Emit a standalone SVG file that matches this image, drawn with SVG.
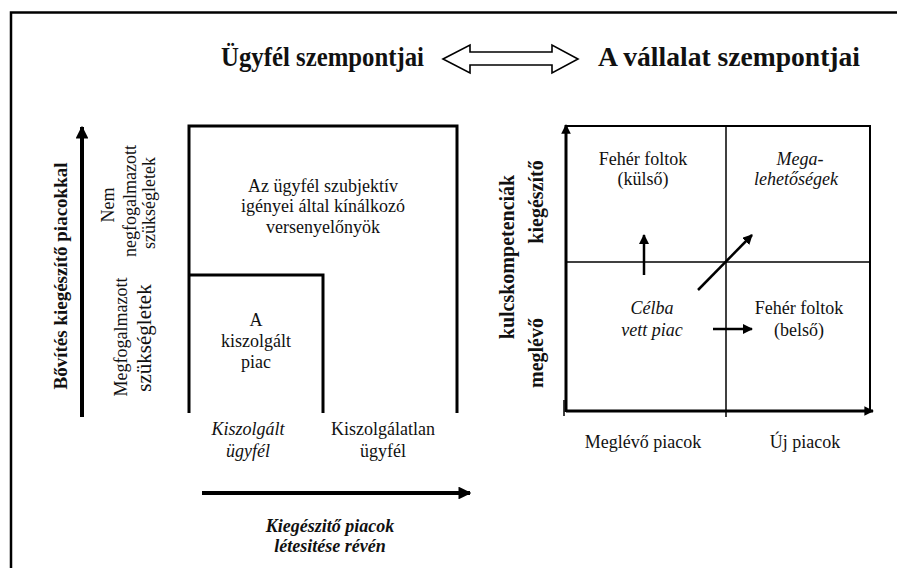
<svg xmlns="http://www.w3.org/2000/svg" width="897" height="568" viewBox="0 0 897 568">
  <defs>
    <marker id="head" viewBox="0 0 10 10" refX="9" refY="5" markerWidth="3.2" markerHeight="3.2" orient="auto" markerUnits="strokeWidth">
      <path d="M0,0 L10,5 L0,10 z" fill="#000"/>
    </marker>
    <marker id="headSmall" viewBox="0 0 10 10" refX="9" refY="5" markerWidth="4" markerHeight="4" orient="auto" markerUnits="strokeWidth">
      <path d="M0,0 L10,5 L0,10 z" fill="#000"/>
    </marker>
  </defs>
  <style>
    .title { font-size: 28px; font-weight: bold; fill: #111; }
    .body { font-size: 18px; text-anchor: middle; fill: #111; }
    .it { font-style: italic; }
    .bold { font-weight: bold; }
    .frame { fill: none; stroke: #000; stroke-width: 2.5; }
    .box { fill: none; stroke: #000; stroke-width: 3; }
    .edge { fill: none; stroke: #000; stroke-width: 2; }
    .thin { fill: none; stroke: #000; stroke-width: 1.5; }
    .axis { fill: none; stroke: #000; stroke-width: 4; marker-end: url(#head); }
    .axis2 { fill: none; stroke: #000; stroke-width: 3; marker-end: url(#head); }
    .move { fill: none; stroke: #000; stroke-width: 2.5; marker-end: url(#headSmall); }
  </style>

  <rect width="897" height="568" fill="#fff"/>

  <!-- outer frame: top and left edges only -->
  <path class="frame" d="M11,568 V12.5 H897"/>

  <!-- headings -->
  <g id="headings" font-family="Liberation Serif">
    <text class="title" x="221" y="66" textLength="203" lengthAdjust="spacingAndGlyphs">Ügyfél szempontjai</text>
    <text class="title" x="598" y="66" textLength="262" lengthAdjust="spacingAndGlyphs">A vállalat szempontjai</text>
    <path id="double-arrow" d="M443,59 L470,45 L470,52 L552,52 L552,45 L578,59 L552,73 L552,65 L470,65 L470,73 Z" fill="#fff" stroke="#000" stroke-width="1.6" stroke-linejoin="miter"/>
  </g>

  <!-- left panel: customer view -->
  <g id="customer-panel" font-family="Liberation Serif">
    <path class="box" d="M189,413 V126 H457 V413"/>
    <path class="box" d="M189,275 H323 V413"/>
    <text class="body" x="323" y="192">Az ügyfél szubjektív</text>
    <text class="body" x="323" y="212">igényei által kínálkozó</text>
    <text class="body" x="323" y="233">versenyelőnyök</text>
    <text class="body" x="256" y="326">A</text>
    <text class="body" x="256" y="347">kiszolgált</text>
    <text class="body" x="256" y="368">piac</text>
  </g>

  <g id="customer-axis-labels" font-family="Liberation Serif">
    <text class="body it" x="248" y="435">Kiszolgált</text>
    <text class="body it" x="248" y="457">ügyfél</text>
    <text class="body" x="383" y="435">Kiszolgálatlan</text>
    <text class="body" x="383" y="457">ügyfél</text>
    <text class="body" transform="translate(114,205) rotate(-90)">Nem</text>
    <text class="body" transform="translate(136,201) rotate(-90)">negfogalmazott</text>
    <text class="body" transform="translate(155,203) rotate(-90)">szükségletek</text>
    <text class="body" transform="translate(127,337) rotate(-90)">Megfogalmazott</text>
    <text class="body" style="font-size:21px" transform="translate(151,338) rotate(-90)">szükségletek</text>
    <text class="body bold" style="font-size:19px" transform="translate(67,276) rotate(-90)">Bővítés kiegészítő piacokkal</text>
    <text class="body bold it" x="330" y="532">Kiegészitő piacok</text>
    <text class="body bold it" x="330" y="552">létesitése révén</text>
  </g>

  <!-- right panel: company view -->
  <g id="company-panel" font-family="Liberation Serif">
    <path class="edge" d="M566,126 H870 V412"/>
    <path class="thin" d="M726,126 V417"/>
    <path class="thin" d="M566,262 H870"/>
    <path class="thin" d="M564,400 V416"/>
    <text class="body" x="643" y="165">Fehér foltok</text>
    <text class="body" x="643" y="185">(külső)</text>
    <text class="body it" x="800" y="165">Mega-</text>
    <text class="body it" x="796" y="185">lehetőségek</text>
    <text class="body it" x="652" y="314">Célba</text>
    <text class="body it" x="652" y="336">vett piac</text>
    <text class="body" x="799" y="314">Fehér foltok</text>
    <text class="body" x="799" y="336">(belső)</text>
  </g>

  <g id="company-axis-labels" font-family="Liberation Serif">
    <text class="body" x="643" y="448">Meglévő piacok</text>
    <text class="body" x="805" y="448">Új piacok</text>
    <text class="body bold" style="font-size:20px" transform="translate(514,257) rotate(-90)">kulcskompetenciák</text>
    <text class="body bold" style="font-size:20px" transform="translate(543,202) rotate(-90)">kiegészítő</text>
    <text class="body bold" style="font-size:20px" transform="translate(543,353) rotate(-90)">meglévő</text>
  </g>

  <!-- connectors: axes and movement arrows -->
  <g id="connectors">
    <path class="axis" d="M82,417 V127"/>
    <path class="axis" d="M202,493 H470"/>
    <path class="axis2" d="M566,412 V125"/>
    <path class="axis2" d="M566,411 H873"/>
    <path class="move" d="M644,275 V235"/>
    <path class="move" d="M698,290 L752,235"/>
    <path class="move" d="M713,329 H752"/>
  </g>
</svg>
